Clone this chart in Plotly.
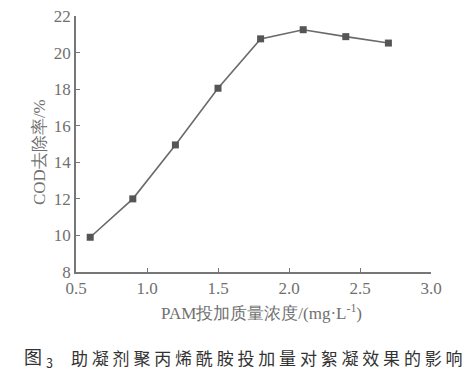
import plotly.graph_objects as go

x_vals = [0.6, 0.9, 1.2, 1.5, 1.8, 2.1, 2.4, 2.7]
y_vals = [9.9, 12.0, 14.95, 18.05, 20.75, 21.25, 20.87, 20.52]
x_ticks = [0.5, 1.0, 1.5, 2.0, 2.5, 3.0]
x_ticklabels = ["0.5", "1.0", "1.5", "2.0", "2.5", "3.0"]
y_ticks = [8, 10, 12, 14, 16, 18, 20, 22]
x_title = "PAM投加质量浓度/(mg·L<sup>-1</sup>)"
y_title = "COD去除率/%"
caption_prefix = "图 <sub>3</sub>"
caption_main = "助凝剂聚丙烯酰胺投加量对絮凝效果的影响"

fig = go.Figure()
fig.add_trace(go.Scatter(
    x=x_vals, y=y_vals, mode="lines+markers",
    line=dict(color="#6a6a6a", width=1.6),
    marker=dict(symbol="square", size=7, color="#555555"),
    showlegend=False, hoverinfo="skip",
))

serif = "Liberation Serif, Times New Roman, serif"
tick_font = dict(family=serif, size=17, color="#707070")
title_font = dict(family=serif, size=17, color="#707070")
# page body has an 8px default margin, so the figure is 8px smaller and margins shifted
fig.update_layout(
    width=466, height=373,
    margin=dict(l=68, r=43, t=8, b=109),
    plot_bgcolor="white", paper_bgcolor="white",
    xaxis=dict(range=[0.5, 3.0], tickvals=x_ticks, ticktext=x_ticklabels,
               showgrid=False, zeroline=False, showline=True, linecolor="#777777", linewidth=1.5,
               ticks="inside", ticklen=4, tickcolor="#777777", tickwidth=1.2,
               tickfont=tick_font, automargin=False, ticklabeloverflow="allow"),
    yaxis=dict(range=[8, 22], tickvals=y_ticks,
               showgrid=False, zeroline=False, showline=True, linecolor="#777777", linewidth=1.5,
               ticks="inside", ticklen=4, tickcolor="#777777", tickwidth=1.2,
               tickfont=tick_font, automargin=False, ticklabeloverflow="allow"),
)

# paper coords relative to the plot area: x 76..431 px, y 16..272 px (page pixels)
def px_x(px):
    return (px - 76) / 355.0

def px_y(py):
    return (272 - py) / 256.0

fig.add_annotation(x=px_x(261), y=px_y(312), xref="paper", yref="paper",
                   xanchor="center", yanchor="middle", showarrow=False,
                   text=x_title, font=title_font)
fig.add_annotation(x=px_x(39), y=px_y(152), xref="paper", yref="paper",
                   xanchor="center", yanchor="middle", showarrow=False, textangle=-90,
                   text=y_title, font=title_font)

spaced = " ".join(list(caption_main))
fig.add_annotation(x=px_x(22), y=px_y(357), xref="paper", yref="paper",
                   xanchor="left", yanchor="middle", showarrow=False,
                   text=caption_prefix, font=dict(family="Noto Sans CJK SC", size=18, color="#333333"))
fig.add_annotation(x=px_x(465), y=px_y(357), xref="paper", yref="paper",
                   xanchor="right", yanchor="middle", showarrow=False,
                   text=spaced, font=dict(family="Noto Sans CJK SC", size=17, color="#333333"))

fig.write_html("out.html")
